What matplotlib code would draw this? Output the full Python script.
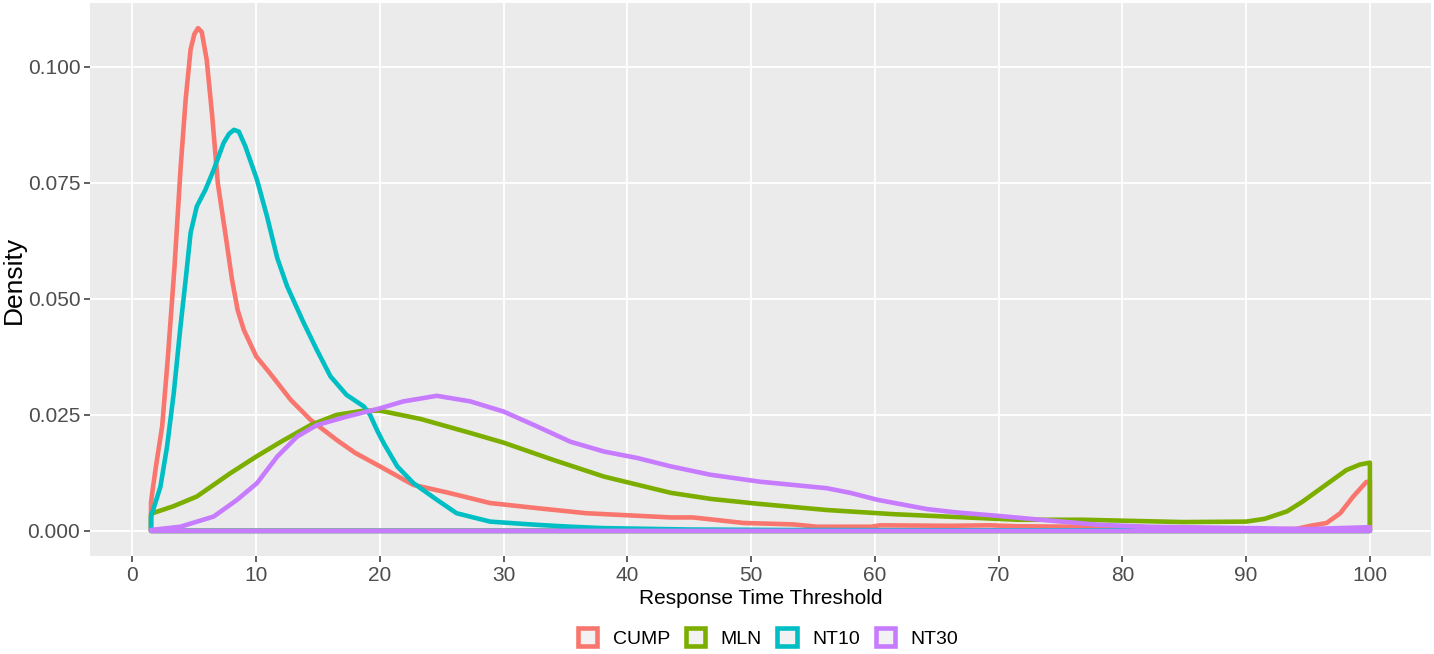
import numpy as np
import matplotlib.pyplot as plt
from matplotlib.patches import Patch

plt.rcParams['font.family'] = ['Liberation Sans', 'DejaVu Sans']

# density estimates (x = response time threshold)
series_names = ['CUMP', 'MLN', 'NT10', 'NT30']
series_colors = ['#F8766D', '#7CAE00', '#00BFC4', '#C77CFF']

cump_x = [1.5, 1.6, 1.9, 2.4, 2.85, 3.4, 3.9, 4.3, 4.7, 5.0, 5.3, 5.6, 6.0, 6.45, 6.9, 7.5,
          8.05, 8.5, 9.0, 10.0, 11.1, 12.8, 14.4, 16.5, 18.0, 20.0, 22.7, 25.4, 28.9, 32.7,
          36.7, 43.5, 45.3, 49.4, 53.4, 55.3, 59.7, 60.4, 66.0, 69.3, 71.5, 76.3, 80.6, 85.0,
          90.0, 94.0, 95.2, 96.5, 97.6, 98.65, 99.7, 100.0]
cump_y = [0.006, 0.0082, 0.0139, 0.0225, 0.0369, 0.0569, 0.0785, 0.0929, 0.1037, 0.107,
          0.1083, 0.1075, 0.1015, 0.0893, 0.0749, 0.0642, 0.0541, 0.0476, 0.0433, 0.0376,
          0.034, 0.0282, 0.0239, 0.0196, 0.0168, 0.0139, 0.0099, 0.0083, 0.006, 0.0049,
          0.0038, 0.0029, 0.0029, 0.0017, 0.0014, 0.0009, 0.0009, 0.0012, 0.0011, 0.0012,
          0.001, 0.0009, 0.0006, 0.0003, 0.0002, 0.0004, 0.0011, 0.0017, 0.0038, 0.0074,
          0.0105, 0.0107]

mln_x = [1.5, 3.3, 5.2, 7.9, 10.0, 12.0, 14.4, 16.5, 18.7, 20.0, 23.3, 27.3, 30.0, 34.0,
         38.1, 43.5, 46.7, 50.7, 56.1, 61.5, 66.5, 71.5, 76.8, 80.0, 84.9, 90.0, 91.5, 93.3,
         94.5, 95.7, 97.0, 98.1, 99.2, 100.0]
mln_y = [0.0037, 0.0053, 0.0074, 0.0124, 0.016, 0.0192, 0.0228, 0.025, 0.0259, 0.0259,
         0.0241, 0.0211, 0.019, 0.0153, 0.0117, 0.0082, 0.0069, 0.0058, 0.0045, 0.0036,
         0.003, 0.0024, 0.0024, 0.0022, 0.0019, 0.002, 0.0026, 0.0042, 0.0062, 0.0085,
         0.011, 0.0131, 0.0143, 0.0147]

nt10_x = [1.5, 1.67, 2.26, 2.8, 3.34, 3.88, 4.3, 4.7, 5.2, 5.9, 6.57, 7.37, 7.8, 8.2, 8.6,
          9.13, 10.07, 10.88, 11.7, 12.5, 13.84, 14.9, 16.0, 17.3, 18.7, 19.2, 19.8, 20.3,
          21.4, 22.7, 24.6, 26.2, 28.9, 32.7, 35.4, 38.0, 45.0, 52.0, 70.0, 100.0]
nt10_y = [0.003, 0.0045, 0.0095, 0.0182, 0.0297, 0.044, 0.0541, 0.0642, 0.0699, 0.0735,
          0.0778, 0.0836, 0.0855, 0.0864, 0.086, 0.0828, 0.0756, 0.0677, 0.0588, 0.0527,
          0.0448, 0.039, 0.0333, 0.0293, 0.0268, 0.025, 0.0215, 0.0189, 0.0139, 0.0103,
          0.0067, 0.0038, 0.002, 0.0013, 0.0009, 0.0006, 0.0003, 0.0002, 0.0001, 0.0001]

nt30_x = [1.5, 3.88, 6.57, 8.46, 10.07, 11.7, 13.3, 14.9, 17.3, 20.0, 21.9, 24.6, 27.3,
          30.0, 32.7, 35.4, 38.1, 40.8, 43.5, 46.7, 50.7, 56.1, 58.0, 60.2, 64.2, 66.5,
          70.1, 74.2, 78.2, 82.2, 90.3, 95.0, 100.0]
nt30_y = [0.0002, 0.0009, 0.0031, 0.0067, 0.0103, 0.016, 0.0203, 0.0228, 0.0246, 0.0264,
          0.0279, 0.0291, 0.0279, 0.0257, 0.0225, 0.0192, 0.0171, 0.0157, 0.0139, 0.0121,
          0.0106, 0.0092, 0.0082, 0.0067, 0.0047, 0.004, 0.0032, 0.0022, 0.0013, 0.0009,
          0.0006, 0.0004, 0.0008]

x_ticks = list(range(0, 101, 10))
y_ticks = [0.0, 0.025, 0.05, 0.075, 0.1]
y_ticklabels = ['0.000', '0.025', '0.050', '0.075', '0.100']

all_x = [cump_x, mln_x, nt10_x, nt30_x]
all_y = [cump_y, mln_y, nt10_y, nt30_y]

fig = plt.figure(figsize=(14.34, 6.54), dpi=100)
ax = fig.add_axes([0.0628, 0.1498, 0.935, 0.8456])
ax.set_facecolor('#EBEBEB')
ax.set_axisbelow(True)
ax.grid(True, color='white', linewidth=1.3)
for s in ax.spines.values():
    s.set_visible(False)

lw = 3.3
for xs, ys, c in zip(all_x, all_y, series_colors):
    # closed outline like geom_density: up at start, curve, down at end, back on baseline
    px = np.r_[xs[0], xs, xs[-1], xs[0]]
    py = np.r_[0, ys, 0, 0]
    ax.fill(px, py, facecolor='none', edgecolor=c, linewidth=lw, joinstyle='round')

xmin, xmax = 1.5, 100
pad = (xmax - xmin) * 0.05
ax.set_xlim(xmin - pad, xmax + pad)
ymax = max(max(y) for y in all_y)
ax.set_ylim(-ymax * 0.05, ymax * 1.05)

ax.set_xticks(x_ticks)
ax.set_yticks(y_ticks)
ax.set_yticklabels(y_ticklabels)
ax.tick_params(colors='#333333', length=4, width=1.1, labelsize=15, labelcolor='#4D4D4D',
               pad=3)

ax.set_xlabel('Response Time Threshold', fontsize=15, color='black', labelpad=3)
ax.set_ylabel('Density', fontsize=19, color='black')
ax.yaxis.set_label_coords(-0.048, 0.5)

handles = [Patch(facecolor='#F2F2F2', edgecolor=c, linewidth=lw) for c in series_colors]
fig.legend(handles, series_names, loc='center', bbox_to_anchor=(0.5356, 0.0245), ncol=4,
           frameon=False, fontsize=14, handlelength=1.0, handleheight=1.0,
           handletextpad=0.8, columnspacing=0.8)

fig.savefig('out.png', dpi=100, facecolor='white')
